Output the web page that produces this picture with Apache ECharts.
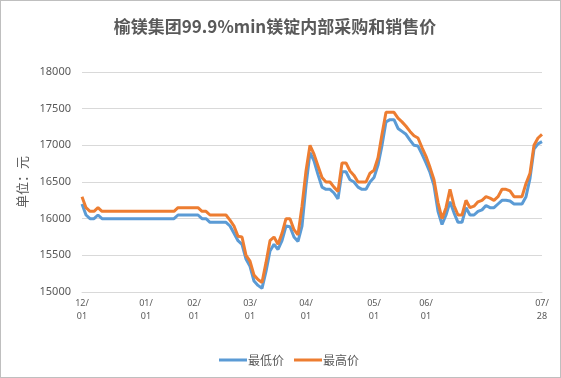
<!DOCTYPE html>
<html>
<head>
<meta charset="utf-8">
<script src="https://cdn.jsdelivr.net/npm/echarts@6/dist/echarts.min.js"></script>
<style>
    html, body { margin: 0; padding: 0; background: #fff; }
    #chart { width: 561px; height: 378px; box-sizing: border-box; border: 1px solid #bfbfbf; }
</style>
</head>
<body>
<div id="chart"></div>
<script>
// dates of the sampled points
const dates = [
    '12/01', '12/03', '12/05', '12/07', '12/09', '12/11', '12/13', '12/15', '12/17', '12/19', '12/21', '12/23', '12/25', '12/27', '12/29', '12/31',
    '01/01', '01/04', '01/06', '01/08', '01/10', '01/12', '01/14', '01/16', '01/18', '01/20', '01/28', '01/30',
    '02/01', '02/03', '02/05', '02/07', '02/09', '02/11', '02/13', '02/15', '02/17', '02/19', '02/21', '02/23', '02/25', '02/27',
    '03/01', '03/03', '03/05', '03/07', '03/09', '03/11', '03/13', '03/15', '03/17', '03/19', '03/21', '03/23', '03/25', '03/27',
    '04/01', '04/02', '04/04', '04/06', '04/08', '04/10', '04/12', '04/14', '04/16', '04/18', '04/20', '04/22', '04/24', '04/26', '04/27', '04/28', '04/29',
    '05/01', '05/03', '05/05', '05/07', '05/09', '05/11', '05/13', '05/15', '05/17', '05/19', '05/21', '05/23', '05/25',
    '06/01', '06/03', '06/05', '06/07', '06/09', '06/11', '06/13', '06/15', '06/17', '06/19', '06/21', '06/23', '06/25', '06/27', '06/29',
    '07/01', '07/03', '07/05', '07/07', '07/09', '07/11', '07/13', '07/15', '07/17', '07/19', '07/21', '07/23', '07/25', '07/27', '07/28'
]

// dates that get a label on the x axis
const tickDates = ['12/01', '01/01', '02/01', '03/01', '04/01', '05/01', '06/01', '07/28']

// 最低价
const lowPrice = [
    16200, 16050, 16000, 16000, 16050, 16000, 16000, 16000, 16000, 16000, 16000, 16000, 16000, 16000, 16000, 16000,
    16000, 16000, 16000, 16000, 16000, 16000, 16000, 16000, 16050, 16050, 16050, 16050,
    16050, 16050, 16000, 16000, 15950, 15950, 15950, 15950, 15950, 15900, 15800, 15700, 15650, 15450,
    15350, 15150, 15090, 15050, 15280, 15560, 15650, 15580, 15700, 15900, 15890, 15750, 15690, 15900,
    16450, 16900, 16790, 16600, 16430, 16400, 16400, 16350, 16270, 16640, 16640, 16530, 16500, 16430, 16400, 16400, 16500,
    16560, 16730, 17000, 17320, 17350, 17350, 17230, 17190, 17150, 17070, 17000, 16990, 16880,
    16760, 16630, 16450, 16100, 15920, 16050, 16230, 16080, 15950, 15950, 16150, 16050, 16050, 16100, 16120,
    16180, 16150, 16150, 16200, 16250, 16250, 16240, 16200, 16200, 16200, 16300, 16550, 16950, 17020, 17050
]

// 最高价
const highPrice = [
    16300, 16150, 16100, 16100, 16150, 16100, 16100, 16100, 16100, 16100, 16100, 16100, 16100, 16100, 16100, 16100,
    16100, 16100, 16100, 16100, 16100, 16100, 16100, 16100, 16150, 16150, 16150, 16150,
    16150, 16150, 16100, 16100, 16050, 16050, 16050, 16050, 16050, 15980, 15900, 15760, 15750, 15500,
    15420, 15230, 15170, 15130, 15400, 15700, 15750, 15650, 15800, 16000, 16000, 15850, 15780, 16170,
    16650, 17000, 16880, 16720, 16560, 16500, 16500, 16430, 16370, 16760, 16760, 16650, 16590, 16500, 16500, 16500, 16620,
    16660, 16830, 17150, 17450, 17450, 17450, 17370, 17320, 17260, 17190, 17130, 17100, 16970,
    16850, 16700, 16530, 16220, 16000, 16150, 16400, 16180, 16050, 16050, 16250, 16150, 16170, 16230, 16250,
    16300, 16280, 16250, 16300, 16400, 16400, 16380, 16300, 16300, 16300, 16480, 16620, 17000, 17100, 17150
]

const seriesNames = ['最低价', '最高价']
const yTicks = [15000, 15500, 16000, 16500, 17000, 17500, 18000]

const chart = echarts.init(document.getElementById('chart'))

chart.setOption({
    animation: false,
    color: ['#5B9BD5', '#ED7D31'],
    textStyle: {
        fontFamily: "'Noto Sans', 'Noto Sans CJK SC', sans-serif"
    },
    title: {
        text: '榆镁集团99.9%min镁锭内部采购和销售价',
        left: 269,
        top: 12,
        textAlign: 'center',
        textStyle: {
            color: '#595959',
            fontSize: 17,
            fontWeight: 'bold',
            fontFamily: "'Noto Sans CJK SC', sans-serif"
        }
    },
    legend: {
        data: seriesNames,
        left: 213,
        top: 348,
        icon: 'rect',
        itemWidth: 28,
        itemHeight: 3,
        itemGap: 10,
        textStyle: {
            color: '#595959',
            fontSize: 12,
            padding: [0, 0, 0, -4],
            fontFamily: "'Noto Sans CJK SC', sans-serif"
        }
    },
    grid: {
        left: 81,
        right: 18,
        top: 71,
        bottom: 85
    },
    xAxis: {
        type: 'category',
        boundaryGap: false,
        data: dates,
        axisLine: { lineStyle: { color: '#d9d9d9' } },
        axisTick: { show: false },
        axisLabel: {
            color: '#595959',
            fontSize: 9,
            lineHeight: 13,
            margin: 5,
            interval: (index, value) => tickDates.includes(value),
            formatter: value => value.replace('/', '/\n')
        }
    },
    yAxis: {
        type: 'value',
        min: yTicks[0],
        max: yTicks[yTicks.length - 1],
        interval: 500,
        name: '单位：元',
        nameLocation: 'middle',
        nameRotate: 90,
        nameGap: 47,
        nameTextStyle: {
            color: '#595959',
            fontSize: 13,
            fontFamily: "'Noto Sans CJK SC', sans-serif"
        },
        axisLine: { show: false },
        axisTick: { show: false },
        axisLabel: {
            color: '#595959',
            fontSize: 11,
            margin: 11,
            formatter: value => String(value)
        },
        splitLine: { lineStyle: { color: '#d9d9d9' } }
    },
    series: [
        {
            name: seriesNames[0],
            type: 'line',
            data: lowPrice,
            symbol: 'none',
            lineStyle: { width: 3 }
        },
        {
            name: seriesNames[1],
            type: 'line',
            data: highPrice,
            symbol: 'none',
            lineStyle: { width: 3 }
        }
    ]
})
</script>
</body>
</html>
